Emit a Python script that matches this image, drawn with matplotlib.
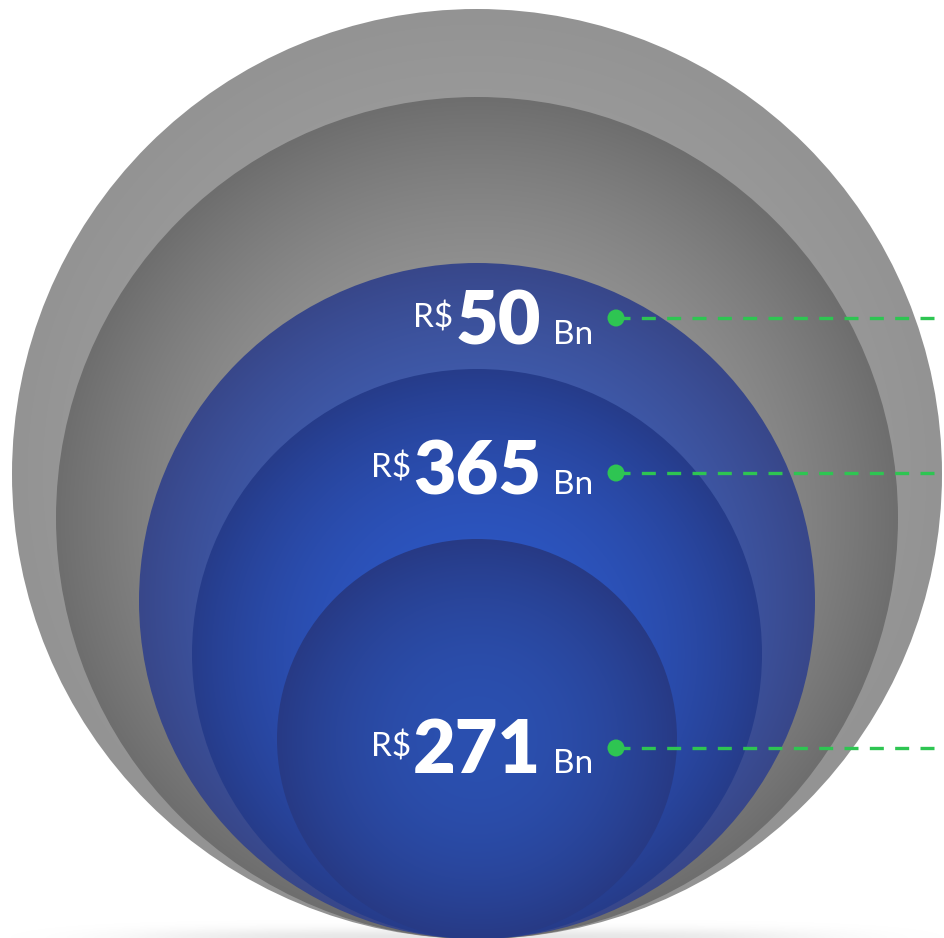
import numpy as np
import matplotlib
matplotlib.use("Agg")
import matplotlib.pyplot as plt
from matplotlib.patches import Circle
from matplotlib.colors import to_rgb

W, H = 945, 938

# Amounts shown on the nested rings (R$ billions)
values = ["50", "365", "271"]
currency = "R$"
unit = "Bn"

# Ring radii (px), outermost first, all resting on a common base point
ring_radii = [465, 421, 338, 285, 200]
# (centre colour, rim colour, falloff power) for each ring
ring_shades = [
    ("#a3a3a3", "#939393", 2.0),
    ("#a2a2a2", "#6e6e6e", 2.0),
    ("#4468c2", "#38478a", 2.0),
    ("#2d58c6", "#263c8a", 2.2),
    ("#2b50b0", "#273a85", 2.0),
]

cx, base_y = 477, 939
label_right = 593
label_baselines = [344, 494, 773]
dot_x = 616
dot_ys = [318, 473, 748]
green = "#2ec552"

fig = plt.figure(figsize=(W / 100, H / 100), dpi=100)
ax = fig.add_axes([0, 0, 1, 1])
ax.set_xlim(0, W)
ax.set_ylim(H, 0)
ax.axis("off")

# soft ground shadow under the rings
sx = np.linspace(0, W, 400)
sy = np.linspace(900, H, 60)
SX, SY = np.meshgrid(sx, sy)
shadow_a = 0.22 * np.exp(-((SX - cx) / 330) ** 4) * np.exp(-((SY - 938) / 9) ** 2)
shadow = np.zeros(SX.shape + (4,))
shadow[..., :3] = 0.55
shadow[..., 3] = shadow_a
ax.imshow(shadow, extent=(0, W, H, 900), origin="upper", zorder=0.5, interpolation="bilinear")

# radial-gradient filled rings
for z, (r, (c_in, c_out, p)) in enumerate(zip(ring_radii, ring_shades)):
    cy = base_y - r
    n = 500
    xs = np.linspace(cx - r, cx + r, n)
    ys = np.linspace(cy - r, cy + r, n)
    X, Y = np.meshgrid(xs, ys)
    t = np.clip(np.hypot(X - cx, Y - cy) / r, 0, 1) ** p
    a, b = np.array(to_rgb(c_in)), np.array(to_rgb(c_out))
    img = a[None, None, :] + (b - a)[None, None, :] * t[..., None]
    circ = Circle((cx, cy), r, facecolor="none", edgecolor="none")
    ax.add_patch(circ)
    im = ax.imshow(img, extent=(cx - r, cx + r, cy + r, cy - r), origin="upper",
                   zorder=1 + z, interpolation="bilinear")
    im.set_clip_path(circ)

# leader lines and dots
for y in dot_ys:
    ax.plot([dot_x, W], [y, y], color=green, lw=2.4, ls=(0, (4.2, 3.4)),
            zorder=10, solid_capstyle="butt", dash_capstyle="butt")
    ax.scatter([dot_x], [y], s=150, color=green, zorder=11, edgecolors="none")

# value labels: small currency, big bold number, unit
fig.canvas.draw()
renderer = fig.canvas.get_renderer()
font = "Lato"
for val, yb in zip(values, label_baselines):
    t_unit = ax.text(label_right, yb, unit, fontsize=24, color="white", family=font,
                     ha="right", va="baseline", zorder=12)
    bb = t_unit.get_window_extent(renderer)
    t_num = ax.text(bb.x0 - 12, yb, val, fontsize=53, color="white", family=font,
                    fontweight="heavy", ha="right", va="baseline", zorder=12)
    bb2 = t_num.get_window_extent(renderer)
    ax.text(bb2.x0 - 2, yb - 17, currency, fontsize=24, color="white", family=font,
            fontweight="normal", ha="right", va="baseline", zorder=12)

fig.savefig("out.png", dpi=100, facecolor="white")
